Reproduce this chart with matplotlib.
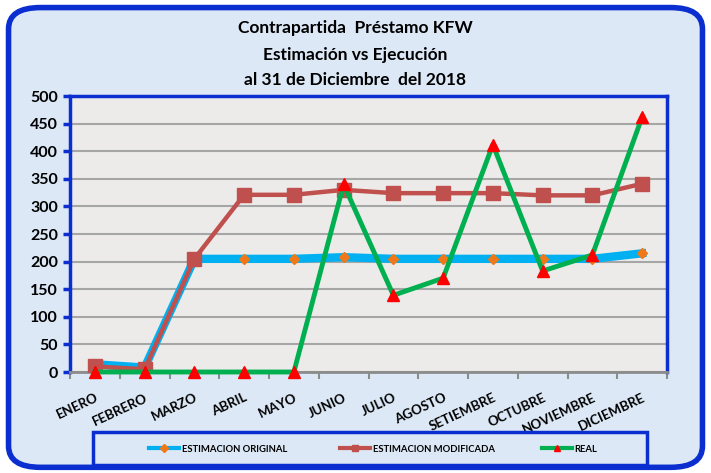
import matplotlib.pyplot as plt
import numpy as np
from matplotlib.patches import FancyBboxPatch, Rectangle
from matplotlib.lines import Line2D

meses = ['ENERO', 'FEBRERO', 'MARZO', 'ABRIL', 'MAYO', 'JUNIO', 'JULIO',
         'AGOSTO', 'SETIEMBRE', 'OCTUBRE', 'NOVIEMBRE', 'DICIEMBRE']
original = [14, 8, 205, 205, 205, 208, 205, 205, 205, 205, 205, 215]
modificada = [10, 5, 205, 321, 321, 330, 324, 324, 324, 320, 320, 341]
real = [0, 0, 0, 0, 0, 340, 139, 170, 412, 183, 212, 462]

azul = '#0A2ECF'
plt.rcParams['font.family'] = ['Lato', 'DejaVu Sans']

fig = plt.figure(figsize=(7.11, 4.73), dpi=100)
fig.patch.set_facecolor('white')
fondo = FancyBboxPatch((0.012, 0.012), 0.976, 0.972, boxstyle='round,pad=0,rounding_size=0.045',
                       transform=fig.transFigure, facecolor='#DCE8F6', edgecolor=azul,
                       linewidth=4, zorder=-10)
fig.patches.append(fondo)

ax = fig.add_axes([70/711, 1-372/473, 597/711, 276/473])
ax.set_facecolor('#ECEBEA')
x = np.arange(len(meses))

ax.plot(x, original, color='#00B0F0', lw=6, marker='D', ms=5.5,
        mfc='#F07818', mec='#F07818', zorder=3, solid_joinstyle='round')
ax.plot(x, modificada, color='#C0504D', lw=3.2, marker='s', ms=10,
        mfc='#C0504D', mec='#C0504D', zorder=4)
ax.plot(x, real, color='#00B050', lw=3.5, marker='^', ms=8,
        mfc='#FF0000', mec='#FF0000', zorder=5, clip_on=False)

ax.set_xlim(-0.5, 11.5)
ax.set_ylim(0, 500)
ax.set_yticks(range(0, 501, 50))
ax.yaxis.grid(True, color='#A6A6A6', lw=1.5)
ax.set_axisbelow(True)
ax.tick_params(axis='y', labelsize=11.5, colors=azul, length=5, width=2.5, labelcolor='black')
for t in ax.get_yticklabels():
    t.set_fontweight('bold')

ax.set_xticks(np.arange(-0.5, 12, 1))
ax.set_xticklabels([])
ax.set_xticks(x, minor=True)
ax.set_xticklabels(meses, minor=True, rotation=25, fontsize=9.5, fontweight='bold',
                   ha='right', va='top', rotation_mode='anchor')
ax.tick_params(axis='x', which='major', length=5, width=1.5, colors='#8C8C8C')
ax.tick_params(axis='x', which='minor', length=0, pad=14)

for s in ['left', 'top', 'right']:
    ax.spines[s].set_color(azul)
    ax.spines[s].set_linewidth(2.5)
ax.spines['bottom'].set_color('#8C8C8C')
ax.spines['bottom'].set_linewidth(2)

fig.text(0.5, 1-28/473, 'Contrapartida  Préstamo KFW', ha='center', va='center',
         fontsize=12.5, fontweight='bold')
fig.text(0.5, 1-55/473, 'Estimación vs Ejecución', ha='center', va='center',
         fontsize=12.5, fontweight='bold')
fig.text(0.5, 1-80/473, 'al 31 de Diciembre  del 2018', ha='center', va='center',
         fontsize=12.5, fontweight='bold')

caja = Rectangle((93/711, 1-465/473), 554/711, 33/473, transform=fig.transFigure,
                 facecolor='#DCE8F6', edgecolor=azul, linewidth=2.5)
fig.patches.append(caja)
handles = [
    Line2D([], [], color='#00B0F0', lw=3, marker='D', ms=4, mfc='#F07818', mec='#F07818'),
    Line2D([], [], color='#C0504D', lw=3, marker='s', ms=5, mfc='#C0504D', mec='#C0504D'),
    Line2D([], [], color='#00B050', lw=3, marker='^', ms=5, mfc='#FF0000', mec='#FF0000'),
]
etiquetas = ['ESTIMACION ORIGINAL', 'ESTIMACION MODIFICADA', 'REAL']
for h, etq, px in zip(handles, etiquetas, [140, 331, 533]):
    leg = fig.legend([h], [etq], loc='center left', bbox_to_anchor=(px/711, 1-449/473),
                     frameon=False, prop={'size': 6.8, 'weight': 'bold'},
                     handlelength=3.2, handletextpad=0.3)

fig.savefig('out.png', dpi=100)
